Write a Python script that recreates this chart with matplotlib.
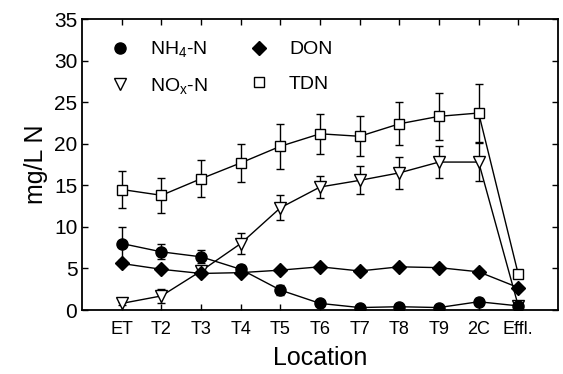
import numpy as np
import matplotlib.pyplot as plt
from matplotlib.lines import Line2D

plt.rcParams['font.family'] = ['Liberation Sans', 'DejaVu Sans']
plt.rcParams['mathtext.fontset'] = 'custom'
plt.rcParams['mathtext.rm'] = 'Liberation Sans'

locations = ['ET', 'T2', 'T3', 'T4', 'T5', 'T6', 'T7', 'T8', 'T9', '2C', 'Effl.']

nh4 = [8.0, 7.0, 6.4, 4.9, 2.4, 0.8, 0.3, 0.4, 0.3, 1.0, 0.5]
nh4_err = [2.0, 0.9, 0.8, 0.5, 0.6, 0.3, 0.2, 0.2, 0.2, 0.4, 0.2]
don = [5.6, 4.9, 4.4, 4.5, 4.8, 5.2, 4.7, 5.2, 5.1, 4.6, 2.7]
nox = [0.8, 1.7, 4.7, 8.0, 12.3, 14.8, 15.6, 16.5, 17.8, 17.8, 0.5]
nox_err = [0.2, 0.8, 0.6, 1.3, 1.5, 1.3, 1.7, 1.9, 1.9, 2.3, 0.1]
tdn = [14.5, 13.8, 15.8, 17.7, 19.7, 21.2, 20.9, 22.4, 23.3, 23.7, 4.3]
tdn_err = [2.2, 2.1, 2.2, 2.3, 2.7, 2.4, 2.4, 2.6, 2.8, 3.5, 0.0]

x = np.arange(len(locations))

fig = plt.figure(figsize=(5.63, 3.74), dpi=100)
ax = fig.add_axes([0.146, 0.171, 0.845, 0.778])

eb = dict(color='k', lw=1, capsize=3, elinewidth=1, capthick=1)
ax.errorbar(x, tdn, yerr=tdn_err, marker='s', ms=7.5, mfc='white', mec='k', zorder=2, **eb)
ax.errorbar(x, nox, yerr=nox_err, marker='v', ms=9, mfc='white', mec='k', zorder=3, **eb)
ax.errorbar(x, don, marker='D', ms=7, mfc='k', mec='k', zorder=4, **eb)
ax.errorbar(x, nh4, yerr=nh4_err, marker='o', ms=8, mfc='k', mec='k', zorder=5, **eb)

for s in ax.spines.values():
    s.set_linewidth(1.3)

ax.set_xlim(-1, 11)
ax.set_ylim(0, 35)
ax.set_xticks(x)
ax.set_xticklabels(locations, fontsize=13)
ax.set_yticks(np.arange(0, 36, 5))
ax.tick_params(axis='y', labelsize=15)
ax.tick_params(direction='in', top=True, right=True, length=4, width=1)
ax.tick_params(axis='x', pad=8)
ax.set_xlabel('Location', fontsize=18, labelpad=6)
ax.set_ylabel('mg/L N', fontsize=18, labelpad=4)

handles = [
    Line2D([], [], ls='none', marker='o', ms=8, mfc='k', mec='k'),
    Line2D([], [], ls='none', marker='v', ms=9, mfc='white', mec='k'),
    Line2D([], [], ls='none', marker='D', ms=7, mfc='k', mec='k'),
    Line2D([], [], ls='none', marker='s', ms=7.5, mfc='white', mec='k'),
]
labels = ['NH$_\\mathrm{4}$-N', 'NO$_\\mathrm{x}$-N', 'DON', 'TDN']
ax.legend(handles, labels, ncol=2, loc='upper left', bbox_to_anchor=(0.035, 0.97),
          frameon=False, fontsize=14, handlelength=1.0, handletextpad=1.05,
          columnspacing=2.1, borderaxespad=0.2, labelspacing=0.85)

fig.savefig('out.png', dpi=100)
